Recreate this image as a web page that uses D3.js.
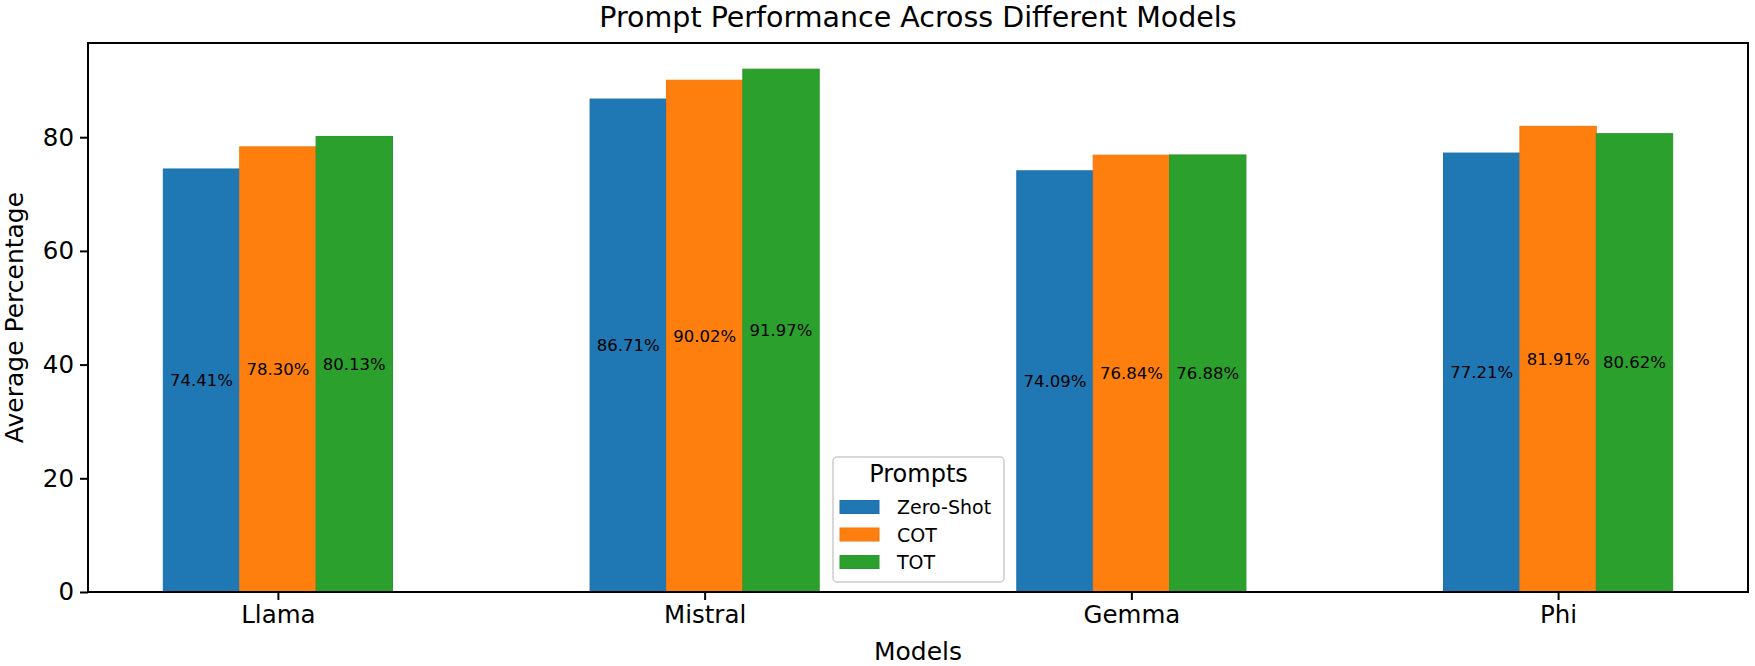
<!DOCTYPE html>
<html>
<head>
<meta charset="utf-8">
<script src="https://cdn.jsdelivr.net/npm/d3@7"></script>
<style>
  html, body { margin: 0; padding: 0; background: #fff; }
  svg { display: block; font-family: "DejaVu Sans", sans-serif; }
</style>
</head>
<body>
<svg id="chart" width="1755" height="666"></svg>
<script>
const models = ["Llama", "Mistral", "Gemma", "Phi"];
const prompts = ["Zero-Shot", "COT", "TOT"];
const zeroShot = [74.41, 86.71, 74.09, 77.21];
const cot = [78.30, 90.02, 76.84, 81.91];
const tot = [80.13, 91.97, 76.88, 80.62];
const yTicks = [0, 20, 40, 60, 80];
const colors = ["#1f77b4", "#ff7f0e", "#2ca02c"];

const seriesValues = [zeroShot, cot, tot];
const svg = d3.select("#chart");
const pLeft = 88, pRight = 1748, pTop = 43, pBottom = 592;
const barW = 0.179;

const x = d3.scaleLinear().domain([-0.445, models.length - 1 + 0.445]).range([pLeft, pRight]);
const maxV = d3.max(seriesValues.flat());
const y = d3.scaleLinear().domain([0, maxV * 1.05]).range([pBottom, pTop]);

// bars
const data = [];
seriesValues.forEach((vals, j) => vals.forEach((v, i) => data.push({i, j, v})));
svg.append("g").selectAll("rect").data(data).join("rect")
  .attr("x", d => x(d.i + (d.j - 1) * barW - barW / 2))
  .attr("width", d => x(barW) - x(0))
  .attr("y", d => y(d.v))
  .attr("height", d => y(0) - y(d.v))
  .attr("fill", d => colors[d.j])
  .attr("stroke", d => d3.color(colors[d.j]).darker(0.15))
  .attr("stroke-width", 1);

// value labels (centered in bar)
svg.append("g").selectAll("text").data(data).join("text")
  .attr("x", d => x(d.i + (d.j - 1) * barW))
  .attr("y", d => y(d.v / 2))
  .attr("text-anchor", "middle")
  .attr("dominant-baseline", "central")
  .attr("font-size", 16.5)
  .attr("fill", "#000")
  .text(d => d.v.toFixed(2) + "%");

// axes
const yAxis = d3.axisLeft(y).tickValues(yTicks).tickSize(8).tickPadding(6).tickFormat(d3.format("d"));
const gy = svg.append("g").attr("transform", `translate(${pLeft},0)`).call(yAxis);
gy.select(".domain").remove();
gy.selectAll("line").attr("stroke", "#000").attr("stroke-width", 2);
gy.selectAll("text").attr("font-size", 24.5).attr("font-family", "DejaVu Sans").attr("fill", "#000");

const xAxis = d3.axisBottom(x).tickValues(d3.range(models.length)).tickFormat(i => models[i]).tickSize(8).tickPadding(6);
const gx = svg.append("g").attr("transform", `translate(0,${pBottom})`).call(xAxis);
gx.select(".domain").remove();
gx.selectAll("line").attr("stroke", "#000").attr("stroke-width", 2);
gx.selectAll("text").attr("font-size", 24.5).attr("font-family", "DejaVu Sans").attr("fill", "#000");

// frame
svg.append("rect").attr("x", pLeft).attr("y", pTop).attr("width", pRight - pLeft).attr("height", pBottom - pTop)
  .attr("fill", "none").attr("stroke", "#000").attr("stroke-width", 2);

// title and axis labels
svg.append("text").attr("x", (pLeft + pRight) / 2).attr("y", 27).attr("text-anchor", "middle")
  .attr("font-size", 28.5).text("Prompt Performance Across Different Models");
svg.append("text").attr("x", (pLeft + pRight) / 2).attr("y", 660).attr("text-anchor", "middle")
  .attr("font-size", 25).text("Models");
svg.append("text").attr("transform", `translate(23,${(pTop + pBottom) / 2}) rotate(-90)`)
  .attr("text-anchor", "middle").attr("font-size", 25).text("Average Percentage");

// legend
const lg = svg.append("g").attr("transform", "translate(833,457)");
lg.append("rect").attr("width", 171).attr("height", 125).attr("rx", 4)
  .attr("fill", "#fff").attr("fill-opacity", 0.85).attr("stroke", "#ccc").attr("stroke-width", 1.5);
lg.append("text").attr("x", 85.5).attr("y", 25).attr("text-anchor", "middle").attr("font-size", 24).text("Prompts");
prompts.forEach((p, k) => {
  const cy = 50 + k * 27.5;
  lg.append("rect").attr("x", 7).attr("y", cy - 6.5).attr("width", 39).attr("height", 13)
    .attr("fill", colors[k]).attr("stroke", d3.color(colors[k]).darker(0.15));
  lg.append("text").attr("x", 64).attr("y", cy).attr("dominant-baseline", "central")
    .attr("font-size", 19).text(p);
});
</script>
</body>
</html>
